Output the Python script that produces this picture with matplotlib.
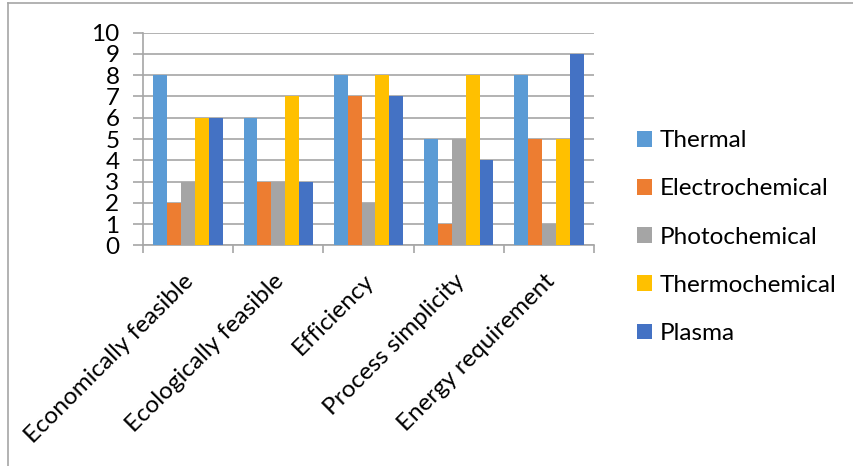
import numpy as np
import matplotlib
matplotlib.use("Agg")
import matplotlib.pyplot as plt
import matplotlib.transforms as transforms
from matplotlib.lines import Line2D

plt.rcParams['font.family'] = ['Lato', 'DejaVu Sans']

categories = ['Economically feasible', 'Ecologically feasible', 'Efficiency',
              'Process simplicity', 'Energy requirement']
series_names = ['Thermal', 'Electrochemical', 'Photochemical', 'Thermochemical', 'Plasma']
thermal = [8, 6, 8, 5, 8]
electrochemical = [2, 3, 7, 1, 5]
photochemical = [3, 3, 2, 5, 1]
thermochemical = [6, 7, 8, 8, 5]
plasma = [6, 3, 7, 4, 9]
colors = ['#5B9BD5', '#ED7D31', '#A5A5A5', '#FFC000', '#4472C4']

series = [thermal, electrochemical, photochemical, thermochemical, plasma]

fig = plt.figure(figsize=(8.54, 4.66), dpi=100, facecolor='white')
ax = fig.add_axes([143/854, 1-245.3/466, (594-143)/854, (245.3-32.7)/466])

x = np.arange(len(categories))
w = 1/6.5
for i, (vals, name, c) in enumerate(zip(series, series_names, colors)):
    ax.bar(x + (i - 2) * w, vals, width=w, color=c, label=name, zorder=3)

# axes styling, excel look
grid_c = '#A6A6A6'
ax.set_xlim(-0.5, len(categories) - 0.5)
ax.set_ylim(0, 10)
ax.set_yticks(range(0, 11))
ax.yaxis.grid(True, color=grid_c, linewidth=1.2, zorder=0)
for s in ['top', 'right']:
    ax.spines[s].set_visible(False)
for s in ['left', 'bottom']:
    ax.spines[s].set_color(grid_c)
    ax.spines[s].set_linewidth(1.2)
ax.tick_params(axis='y', length=7, width=1.2, color=grid_c, labelsize=17.5, pad=10)
ax.set_xticks(x)
ax.set_xticklabels(categories, rotation=45, ha='right', rotation_mode='anchor', fontsize=17.5)
ax.tick_params(axis='x', which='major', length=0, pad=18)
ax.set_xticks(np.arange(-0.5, len(categories)), minor=True)
ax.tick_params(axis='x', which='minor', length=6, width=1.2, color=grid_c)
# nudge rotated labels a bit to the left
shift = transforms.ScaledTranslation(-5/100, 0, fig.dpi_scale_trans)
for lbl in ax.get_xticklabels():
    lbl.set_transform(lbl.get_transform() + shift)

ax.legend(loc='center left', bbox_to_anchor=(637/854, 0.491), bbox_transform=fig.transFigure,
          frameon=False, fontsize=17.5, handlelength=0.62, handleheight=0.62,
          handletextpad=0.3, labelspacing=1.12, borderpad=0, borderaxespad=0)

# partial chart frame
fig.add_artist(Line2D([8/854, 8/854], [0, 1-3/466], color='#A6A6A6', linewidth=1.2))
fig.add_artist(Line2D([8/854, 1], [1-3/466, 1-3/466], color='#A6A6A6', linewidth=1.2))

fig.savefig('out.png', dpi=100, facecolor='white')
